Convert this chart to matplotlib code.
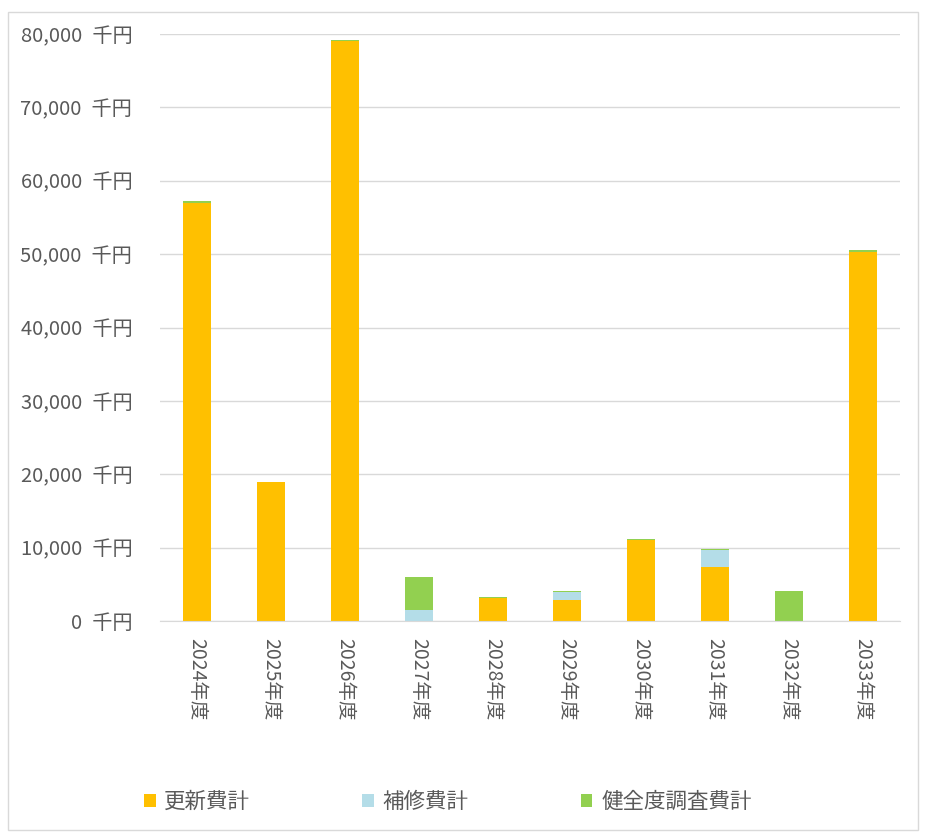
import matplotlib
matplotlib.use("Agg")
import matplotlib.pyplot as plt
from matplotlib.ticker import FuncFormatter
from matplotlib.patches import Rectangle

plt.rcParams['font.family'] = ['Noto Sans CJK JP', 'DejaVu Sans']

years = ["2024年度", "2025年度", "2026年度", "2027年度", "2028年度",
         "2029年度", "2030年度", "2031年度", "2032年度", "2033年度"]
renewal = [57000, 18900, 79000, 0, 3150, 2850, 11000, 7300, 0, 50300]
repair = [0, 0, 0, 1500, 0, 1100, 0, 2350, 0, 0]
survey = [300, 100, 200, 4500, 150, 200, 150, 200, 4100, 200]

series_names = ["更新費計", "補修費計", "健全度調査費計"]
colors = ["#FFC000", "#B4DDE8", "#92D050"]

text_color = "#595959"

fig = plt.figure(figsize=(9.26, 8.36), dpi=100)
ax = fig.add_axes([160 / 926, 1 - 621 / 836, 740 / 926, 587 / 836])

x = list(range(len(years)))
bottom2 = [a + b for a, b in zip(renewal, repair)]
ax.bar(x, renewal, width=0.39, color=colors[0], label=series_names[0], zorder=3)
ax.bar(x, repair, width=0.39, bottom=renewal, color=colors[1], label=series_names[1], zorder=3)
ax.bar(x, survey, width=0.39, bottom=bottom2, color=colors[2], label=series_names[2], zorder=3)

ax.set_xlim(-0.5, len(years) - 0.5)
ax.set_ylim(0, 80000)
ax.set_yticks(range(0, 80001, 10000))
ax.yaxis.set_major_formatter(FuncFormatter(lambda v, p: f"{int(v):,}\u2002千円"))
ax.set_xticks(x)
ax.set_xticklabels(years, rotation=270, fontsize=14, color=text_color)
ax.tick_params(axis="y", labelsize=14.5, labelcolor=text_color, length=0, pad=20)
ax.tick_params(axis="x", length=0, pad=12)

ax.grid(axis="y", color="#D9D9D9", linewidth=1, zorder=0)
for side in ["left", "right", "top"]:
    ax.spines[side].set_visible(False)
ax.spines["bottom"].set_color("#D9D9D9")
ax.spines["bottom"].set_zorder(4)

ax.legend(loc="center left", bbox_to_anchor=(-0.048, -0.308), ncol=3, frameon=False,
          fontsize=15.5, handlelength=0.55, handleheight=0.55, columnspacing=5.2,
          handletextpad=0.4, labelcolor=text_color)

fig.patches.append(Rectangle((8 / 926, 6 / 836), 910 / 926, 818 / 836,
                             transform=fig.transFigure, fill=False,
                             edgecolor="#D9D9D9", linewidth=1))

fig.savefig("out.png", dpi=100)
